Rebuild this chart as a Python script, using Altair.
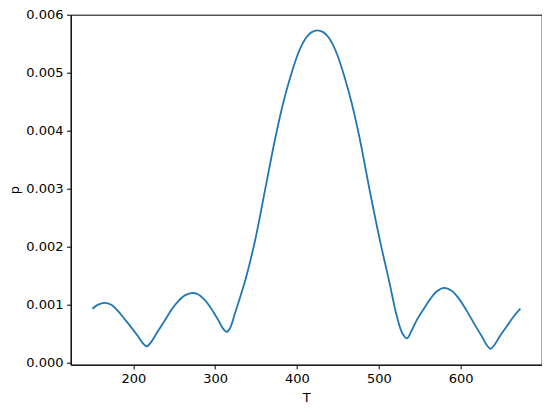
import altair as alt
import pandas as pd

T = [150, 157, 165, 173, 182, 190, 198, 206, 212, 216.5, 221, 230, 239, 247, 255, 263,
     271, 279, 286, 292, 298, 304, 309, 314, 318, 324, 331, 337, 349, 361, 373, 383,
     392, 400, 406, 412, 418, 425, 432, 438, 444, 450, 458, 467, 477, 489, 501, 513,
     522, 529, 534.5, 540, 547, 555, 563, 571, 580, 589, 598, 608, 617, 626, 632,
     636.5, 641, 648, 657, 665, 673]
p = [0.00093, 0.00100, 0.00103, 0.00100, 0.00088, 0.00074, 0.00060, 0.00045, 0.00033,
     0.00028, 0.00034, 0.00054, 0.00074, 0.00092, 0.00106, 0.00116, 0.00120, 0.00118,
     0.00110, 0.00100, 0.00087, 0.00073, 0.00060, 0.00053, 0.00059, 0.00084, 0.00115,
     0.00143, 0.00212, 0.00298, 0.00384, 0.00447, 0.00493, 0.00528, 0.00548, 0.00562,
     0.00570, 0.00573, 0.00570, 0.00562, 0.00548, 0.00528, 0.00493, 0.00447, 0.00384,
     0.00296, 0.00213, 0.00138, 0.00080, 0.00050, 0.00042, 0.00055, 0.00075, 0.00093,
     0.00110, 0.00123, 0.00129, 0.00124, 0.00110, 0.00088, 0.00066, 0.00045, 0.00030,
     0.00024, 0.00030, 0.00046, 0.00064, 0.00080, 0.00093]

x_ticks = [200, 300, 400, 500, 600]
y_ticks = [0.000, 0.001, 0.002, 0.003, 0.004, 0.005, 0.006]

df = pd.DataFrame({"T": T, "p": p})

FONT = "DejaVu Sans"

chart = alt.Chart(df).mark_line(
    color="#1f77b4", strokeWidth=1.8, interpolate="catmull-rom"
).encode(
    x=alt.X("T:Q", title="T",
            scale=alt.Scale(domain=[123.5, 699], nice=False, zero=False),
            axis=alt.Axis(values=x_ticks, format="d", titlePadding=6)),
    y=alt.Y("p:Q", title="p",
            scale=alt.Scale(domain=[-0.000035, 0.006], nice=False, zero=False),
            axis=alt.Axis(values=y_ticks, format=".3f", titlePadding=4)),
).properties(
    width=471, height=350,
    background="white",
    autosize=alt.AutoSizeParams(type="none"),
    padding={"left": 62.7, "top": 6.7, "right": 0, "bottom": 40},
).configure_view(
    stroke="black", strokeWidth=1, fill="white"
).configure_axis(
    grid=False, domain=True, domainColor="black", domainWidth=1,
    tickColor="black", tickSize=4.2, tickWidth=1,
    labelFont=FONT, labelFontSize=13, labelColor="black", labelPadding=3.5,
    titleFont=FONT, titleFontSize=13, titleColor="black", titleFontWeight="normal",
)

chart.save("out.html", embed_options={"renderer": "svg", "actions": False})
